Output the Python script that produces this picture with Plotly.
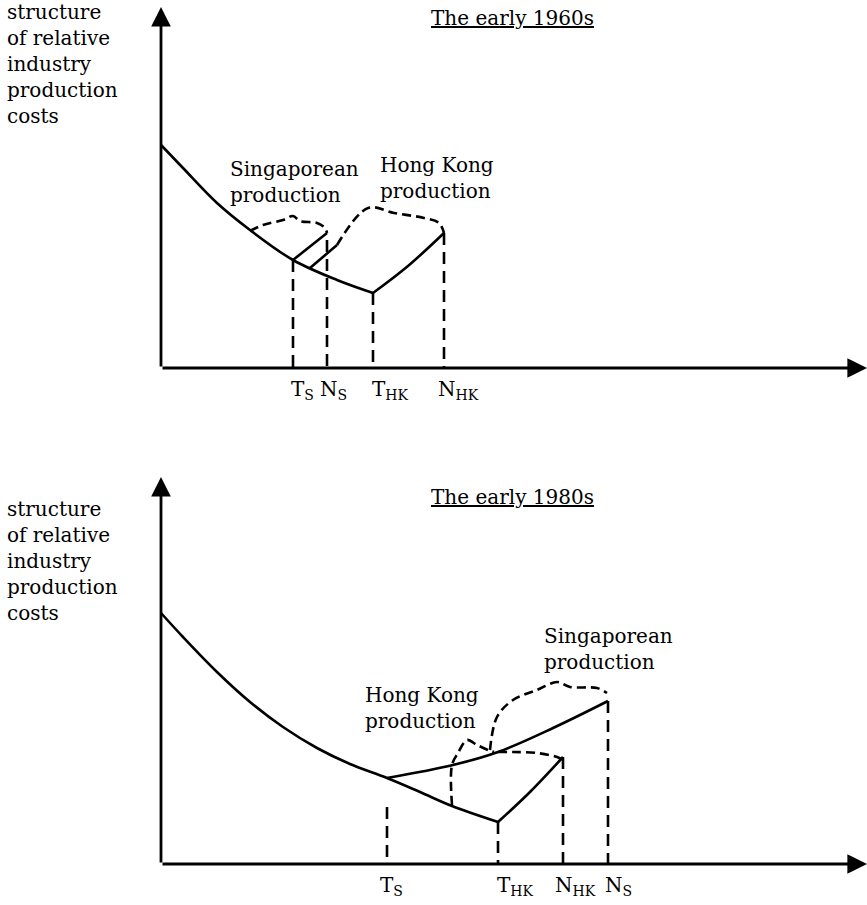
import plotly.graph_objects as go

# ---------------- data (diagram units, origin = axes corner of each panel) ----------------
# Panel 1: the early 1960s
p1_cost_x = [0, 22, 56, 89, 132, 176, 212]
p1_cost_y = [223, 200, 165, 138, 108, 88, 75]
p1_hk_rise_x = [212, 247, 283]
p1_hk_rise_y = [75, 102, 135]
p1_sg_line_x = [132, 166]
p1_sg_line_y = [108, 135]
p1_hk_line_x = [149, 176]
p1_hk_line_y = [100, 123]
p1_hk_brace_x = [176, 207, 233, 263, 278, 283]
p1_hk_brace_y = [123, 160, 155, 150, 145, 135]
p1_sg_brace_x = [89, 102, 122, 132, 139, 156, 164, 166]
p1_sg_brace_y = [137, 143, 148, 152, 147, 145, 140, 135]
p1_drop_x = [132, 166, 212, 283]
p1_drop_top = [108, 128, 75, 135]
p1_tick_labels = ["T<sub>S</sub>", "N<sub>S</sub>", "T<sub>HK</sub>", "N<sub>HK</sub>"]
p1_tick_label_x = [128, 157, 209, 275]

# Panel 2: the early 1980s
p2_cost_x = [0, 22, 56, 89, 122, 156, 189, 226, 259, 291, 337]
p2_cost_y = [251, 227, 192, 162, 137, 116, 100, 86, 72, 58, 42]
p2_hk_rise_x = [337, 369, 402]
p2_hk_rise_y = [42, 72, 107]
p2_sg_curve_x = [226, 292, 337, 392, 447]
p2_sg_curve_y = [86, 99, 112, 136, 163]
p2_hk_brace_l_x = [291, 291, 297, 306, 316, 327, 333]
p2_hk_brace_l_y = [59, 99, 111, 124, 119, 114, 112]
p2_hk_brace_r_x = [337, 352, 376, 396, 402]
p2_hk_brace_r_y = [112, 112, 111, 107, 104]
p2_sg_brace_x = [329, 336, 352, 376, 396, 409, 436, 446]
p2_sg_brace_y = [114, 147, 164, 174, 182, 177, 176, 171]
p2_drop_x = [226, 337, 402, 447]
p2_drop_top = [57, 42, 107, 163]
p2_tick_labels = ["T<sub>S</sub>", "T<sub>HK</sub>", "N<sub>HK</sub>", "N<sub>S</sub>"]
p2_tick_label_x = [217, 334, 392, 442]

axis_x_end = 706
p1_axis_y_end = 361
p2_axis_y_end = 387

y_label = "structure<br>of relative<br>industry<br>production<br>costs"
p1_title = "<u>The early 1960s</u>"
p2_title = "<u>The early 1980s</u>"

FONT = dict(family="DejaVu Serif", size=20, color="black")
INK = "black"

fig = go.Figure()


def line(x, y, ax, dash="solid", width=2.6, spline=False):
    fig.add_trace(go.Scatter(
        x=x, y=y, mode="lines", xaxis="x" if ax == 1 else "x2", yaxis="y" if ax == 1 else "y2",
        line=dict(color=INK, width=width, dash=dash, shape="spline" if spline else "linear"),
        hoverinfo="skip"))


VDASH = "12px,7px"
BDASH = "9px,5px"

# ---- panel 1 ----
line(p1_cost_x, p1_cost_y, 1, spline=True)
line(p1_hk_rise_x, p1_hk_rise_y, 1, spline=True)
line(p1_sg_line_x, p1_sg_line_y, 1)
line(p1_hk_line_x, p1_hk_line_y, 1)
line(p1_hk_brace_x, p1_hk_brace_y, 1, dash=BDASH, spline=True)
line(p1_sg_brace_x, p1_sg_brace_y, 1, dash=BDASH, spline=True)
for xv, top in zip(p1_drop_x, p1_drop_top):
    line([xv, xv], [top, 0], 1, dash=VDASH)

# ---- panel 2 ----
line(p2_cost_x, p2_cost_y, 2, spline=True)
line(p2_hk_rise_x, p2_hk_rise_y, 2, spline=True)
line(p2_sg_curve_x, p2_sg_curve_y, 2, spline=True)
line(p2_hk_brace_l_x, p2_hk_brace_l_y, 2, dash=BDASH, spline=True)
line(p2_hk_brace_r_x, p2_hk_brace_r_y, 2, dash=BDASH, spline=True)
line(p2_sg_brace_x, p2_sg_brace_y, 2, dash=BDASH, spline=True)
for xv, top in zip(p2_drop_x, p2_drop_top):
    line([xv, xv], [top, 0], 2, dash=VDASH)

ann = []


def arrow(xt, yt, ax):
    xr, yr = ("x", "y") if ax == 1 else ("x2", "y2")
    ann.append(dict(x=xt, y=yt, ax=0, ay=0, xref=xr, yref=yr, axref=xr, ayref=yr,
                    showarrow=True, arrowhead=2, arrowsize=1.4, arrowwidth=2.8,
                    arrowcolor=INK, standoff=0, text=""))


def text(x, y, s, ax, xanchor="left", yanchor="middle", align="left"):
    xr, yr = ("x", "y") if ax == 1 else ("x2", "y2")
    ann.append(dict(x=x, y=y, xref=xr, yref=yr, text=s, showarrow=False,
                    xanchor=xanchor, yanchor=yanchor, align=align, font=FONT))


arrow(axis_x_end, 0, 1)
arrow(0, p1_axis_y_end, 1)
arrow(axis_x_end, 0, 2)
arrow(0, p2_axis_y_end, 2)

text(-156, 304, y_label, 1)
text(-156, 303, y_label, 2)
text(351, 350, p1_title, 1, xanchor="center")
text(351, 367, p2_title, 2, xanchor="center")

text(67, 186, "Singaporean<br>production", 1)
text(217, 190, "Hong Kong<br>production", 1)
text(381, 215, "Singaporean<br>production", 2)
text(202, 156, "Hong Kong<br>production", 2)

for s, xv in zip(p1_tick_labels, p1_tick_label_x):
    text(xv, -22, s, 1)
for s, xv in zip(p2_tick_labels, p2_tick_label_x):
    text(xv, -22, s, 2)

hidden = dict(visible=False, fixedrange=True)
fig.update_layout(
    width=867, height=905, margin=dict(l=0, r=0, t=0, b=0),
    paper_bgcolor="white", plot_bgcolor="white", showlegend=False,
    xaxis=dict(domain=[0, 1], range=[-161, 706], anchor="y", **hidden),
    yaxis=dict(domain=[0.5, 1], range=[-84.5, 368], anchor="x", **hidden),
    xaxis2=dict(domain=[0, 1], range=[-161, 706], anchor="y2", **hidden),
    yaxis2=dict(domain=[0, 0.5], range=[-41, 411.5], anchor="x2", **hidden),
    annotations=ann,
)

fig.write_html(
    "out.html",
    config={"displayModeBar": False},
    post_script="document.body.style.margin='0';document.body.style.overflow='hidden';",
)
